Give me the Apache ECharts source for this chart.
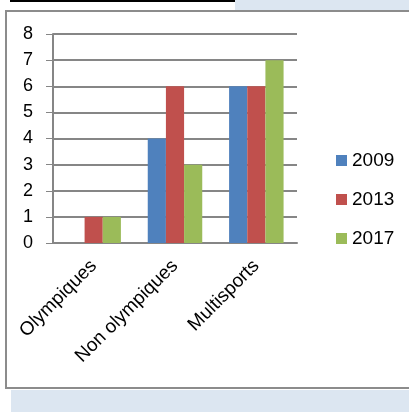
<!DOCTYPE html>
<html>
<head>
<meta charset="utf-8">
<script src="https://cdn.jsdelivr.net/npm/echarts@6/dist/echarts.min.js"></script>
<style>
html, body { margin: 0; padding: 0; background: #fff; }
#chart { width: 409px; height: 412px; }
</style>
</head>
<body>
<div id="chart"></div>
<script>
var categories = ['Olympiques', 'Non olympiques', 'Multisports'];
var years = ['2009', '2013', '2017'];
var values2009 = [0, 4, 6];
var values2013 = [1, 6, 6];
var values2017 = [1, 3, 7];
var yTicks = [0, 1, 2, 3, 4, 5, 6, 7, 8];
var colors = ['#4F81BD', '#C0504D', '#9BBB59'];

var myChart = echarts.init(document.getElementById('chart'));
var font = 'Liberation Sans';

function makeSeries(name, data, i) {
    return {
        name: name,
        type: 'bar',
        data: data,
        barGap: '0%',
        barCategoryGap: '33%',
        itemStyle: { color: colors[i] },
        emphasis: { disabled: true }
    };
}

var option = {
    animation: false,
    textStyle: { fontFamily: font },
    graphic: [
        { type: 'rect', shape: { x: 10, y: 0, width: 225, height: 2 }, style: { fill: '#000' } },
        { type: 'rect', shape: { x: 235, y: 0, width: 174, height: 10 }, style: { fill: '#dce6f1' } },
        { type: 'rect', shape: { x: 11, y: 390, width: 398, height: 22 }, style: { fill: '#dce6f1' } },
        { type: 'rect', shape: { x: 6, y: 11, width: 420, height: 377 }, style: { fill: 'none', stroke: '#8c8c8c', lineWidth: 2 } }
    ],
    legend: {
        orient: 'vertical',
        left: 331,
        top: 146,
        itemWidth: 11,
        itemHeight: 11,
        itemGap: 20,
        icon: 'rect',
        textStyle: { fontSize: 19, color: '#000', fontFamily: font },
        data: years
    },
    grid: { left: 53, right: 112, top: 34, bottom: 169 },
    xAxis: {
        type: 'category',
        data: categories,
        axisLine: { lineStyle: { color: '#868686', width: 2 } },
        axisTick: { length: 4, lineStyle: { color: '#868686' } },
        axisLabel: { rotate: 45, fontSize: 19, color: '#000', margin: 20, fontFamily: font }
    },
    yAxis: {
        type: 'value',
        min: yTicks[0],
        max: yTicks[yTicks.length - 1],
        interval: 1,
        axisLine: { show: true, lineStyle: { color: '#868686', width: 2 } },
        axisTick: { show: true, length: 7, lineStyle: { color: '#868686' } },
        splitLine: { lineStyle: { color: '#868686', width: 2 } },
        axisLabel: { fontSize: 18, color: '#000', margin: 20, fontFamily: font }
    },
    series: [
        makeSeries(years[0], values2009, 0),
        makeSeries(years[1], values2013, 1),
        makeSeries(years[2], values2017, 2)
    ]
};

myChart.setOption(option);
</script>
</body>
</html>
